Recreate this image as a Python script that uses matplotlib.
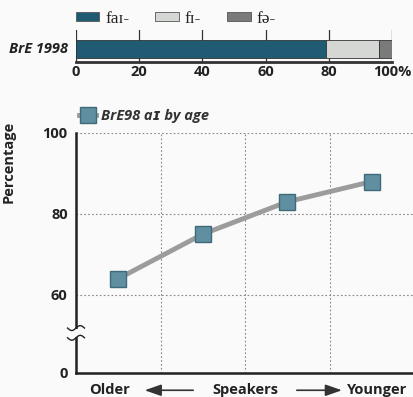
import numpy as np
import matplotlib
matplotlib.use("Agg")
import matplotlib.pyplot as plt
from matplotlib.patches import Patch
from matplotlib.lines import Line2D
from matplotlib import transforms

# data
bar_label = "BrE 1998"
bar_parts = ["faɪ-", "fɪ-", "fə-"]
bar_values = [79, 17, 4]
bar_colors = ["#1f5b73", "#d5d7d5", "#7a7a7a"]
bar_ticks = [0, 20, 40, 60, 80, 100]
bar_ticklabels = ["0", "20", "40", "60", "80", "100%"]

age_groups = ["Older", "", "", "Younger"]
age_values = [64, 75, 83, 88]
age_series = "BrE98 aɪ by age"

# broken axis: "0" is drawn just below the 60-100 range
y_ticks = [60, 80, 100]
y_zero_pos = 40.7

plt.rcParams['font.family'] = ['Open Sans', 'DejaVu Sans']
ink = "#222222"
serif = ['Liberation Serif', 'DejaVu Serif']
fs = 10.5

fig = plt.figure(figsize=(4.14, 3.97), dpi=100)
fig.patch.set_facecolor("#fafafa")

# ---- top stacked bar ----
ax1 = fig.add_axes([0.1836, 0.8438, 0.7634, 0.0806])
ax1.set_facecolor("none")
left = 0
handles = []
for name, val, col in zip(bar_parts, bar_values, bar_colors):
    ax1.barh([0.4], [val], left=left, height=0.56, color=col,
             edgecolor="#333333", linewidth=0.6, zorder=3)
    handles.append(Patch(facecolor=col, edgecolor="#555555", linewidth=0.6, label=name))
    left += val
ax1.set_xlim(0, 100)
ax1.set_ylim(0, 1)
ax1.set_xticks(bar_ticks)
ax1.set_xticklabels(bar_ticklabels, fontsize=fs, fontweight="bold", color=ink)
ax1.tick_params(axis="x", length=0, pad=2)
ax1.set_yticks([])
ax1.xaxis.grid(True, color="#333333", linewidth=0.9)
for s in ["top", "right", "left"]:
    ax1.spines[s].set_visible(False)
ax1.spines["bottom"].set_linewidth(2.0)
ax1.spines["bottom"].set_color("#333333")
ax1.text(-0.025, 0.4, bar_label, transform=transforms.blended_transform_factory(ax1.transAxes, ax1.transData),
         ha="right", va="center", fontsize=fs, fontweight="bold", style="italic", color=ink)
leg1 = fig.legend(handles=handles, loc="center left", bbox_to_anchor=(0.145, 0.953), ncol=3,
                  frameon=False, handlelength=1.35, handleheight=0.5, columnspacing=1.5,
                  handletextpad=0.35, prop={"family": serif, "size": 12.5})
for t in leg1.get_texts():
    t.set_color(ink)

# ---- bottom line chart ----
ax2 = fig.add_axes([0.1836, 0.0605, 0.8164, 0.6045])
ax2.set_facecolor("none")
x = np.arange(len(age_values)) + 0.5
ax2.plot(x, age_values, color="#9c9c9c", linewidth=3.5, zorder=3, solid_capstyle="round")
ax2.plot(x, age_values, linestyle="none", marker="s", markersize=11,
         markerfacecolor="#5f8fa0", markeredgecolor="#3e6a7a", markeredgewidth=1, zorder=4)
ax2.set_xlim(0, 4)
ax2.set_ylim(y_zero_pos, 100)
ax2.set_yticks([y_zero_pos] + y_ticks)
ax2.set_yticklabels(["0"] + [str(v) for v in y_ticks], fontsize=fs, fontweight="bold", color=ink)
ax2.tick_params(axis="y", length=0, pad=6)
ax2.set_xticks([])
for v in y_ticks:
    ax2.axhline(v, color="#888888", linewidth=0.8, linestyle=(0, (1.5, 2)), zorder=1)
for v in [1, 2, 3, 4]:
    ax2.axvline(v, color="#888888", linewidth=0.8, linestyle=(0, (1.5, 2)), zorder=1)
for s in ["top", "right"]:
    ax2.spines[s].set_visible(False)
for s in ["left", "bottom"]:
    ax2.spines[s].set_linewidth(1.8)
    ax2.spines[s].set_color("#222222")

# axis break mark on the left spine
bt = transforms.blended_transform_factory(ax2.transAxes, ax2.transData)
ax2.add_patch(plt.Rectangle((-0.012, 49.6), 0.024, 2.0, transform=bt,
                            facecolor="#fafafa", edgecolor="none", clip_on=False, zorder=5))
ws = np.linspace(-0.025, 0.025, 30)
for yb in [49.4, 51.8]:
    ax2.plot(ws, yb + 0.6 * np.sin(ws / 0.025 * np.pi), transform=bt, color="#222222",
             linewidth=1.0, clip_on=False, zorder=6)

ax2.set_ylabel("Percentage", fontsize=fs, fontweight="bold", color=ink)
ax2.yaxis.set_label_coords(-0.18, 0.88)

# x labels with arrows
lt = transforms.blended_transform_factory(ax2.transData, ax2.transAxes)
ly = -0.072
ax2.text(0.40, ly, age_groups[0], transform=lt, ha="center", va="center",
         fontsize=fs, fontweight="bold", color=ink)
ax2.text(2.0, ly, "Speakers", transform=lt, ha="center", va="center",
         fontsize=fs, fontweight="bold", color=ink)
ax2.text(3.56, ly, age_groups[-1], transform=lt, ha="center", va="center",
         fontsize=fs, fontweight="bold", color=ink)
arrow = dict(arrowstyle="-|>,head_length=1.0,head_width=0.35", color="#333333", linewidth=1.2)
ax2.annotate("", xy=(0.78, ly), xytext=(1.42, ly), xycoords=lt, textcoords=lt, arrowprops=arrow)
ax2.annotate("", xy=(3.18, ly), xytext=(2.58, ly), xycoords=lt, textcoords=lt, arrowprops=arrow)

# series legend
h2 = Line2D([], [], color="#9c9c9c", linewidth=3.5, marker="s", markersize=11,
            markerfacecolor="#5f8fa0", markeredgecolor="#3e6a7a")
leg2 = ax2.legend([h2], [age_series], loc="lower left", bbox_to_anchor=(-0.03, 0.985),
                  frameon=False, handlelength=1.2, handletextpad=0.3,
                  prop={"size": fs, "weight": "bold", "style": "italic"})
for t in leg2.get_texts():
    t.set_color("#333333")

fig.savefig("out.png", dpi=100, facecolor=fig.get_facecolor())
